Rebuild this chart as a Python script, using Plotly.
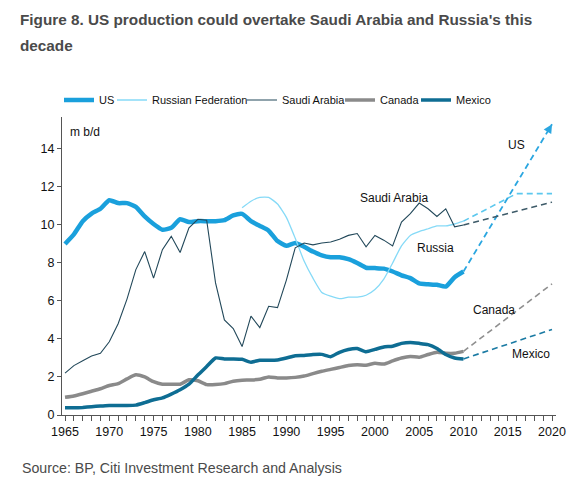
import plotly.graph_objects as go

years = list(range(1965, 2011))

us = [9.0, 9.5, 10.2, 10.6, 10.85, 11.3, 11.15, 11.15, 10.95, 10.45,
      10.05, 9.75, 9.85, 10.3, 10.15, 10.2, 10.2, 10.2, 10.25, 10.5,
      10.58, 10.2, 9.95, 9.7, 9.15, 8.9, 9.05, 8.85, 8.6, 8.4,
      8.3, 8.3, 8.2, 8.0, 7.75, 7.73, 7.7, 7.55, 7.35, 7.2,
      6.92, 6.88, 6.85, 6.76, 7.25, 7.55]

russia_years = list(range(1985, 2011))
russia = [10.9, 11.25, 11.45, 11.45, 11.1, 10.4, 9.3, 8.1, 7.2, 6.45,
          6.25, 6.12, 6.2, 6.2, 6.3, 6.6, 7.15, 8.0, 8.9, 9.45,
          9.65, 9.8, 9.95, 9.95, 10.05, 10.2]

saudi = [2.2, 2.6, 2.85, 3.1, 3.25, 3.85, 4.8, 6.1, 7.65, 8.6,
         7.2, 8.7, 9.4, 8.55, 9.85, 10.3, 10.25, 6.95, 5.0, 4.55,
         3.6, 5.2, 4.6, 5.72, 5.65, 7.1, 8.8, 9.05, 8.95, 9.05,
         9.1, 9.25, 9.45, 9.55, 8.85, 9.45, 9.2, 8.9, 10.15, 10.6,
         11.15, 10.85, 10.45, 10.85, 9.9, 10.0]

canada = [0.93, 1.0, 1.12, 1.25, 1.38, 1.55, 1.65, 1.9, 2.12, 2.0,
          1.75, 1.62, 1.62, 1.62, 1.85, 1.8, 1.6, 1.6, 1.65, 1.78,
          1.83, 1.84, 1.88, 2.0, 1.95, 1.95, 1.98, 2.05, 2.18, 2.3,
          2.4, 2.5, 2.6, 2.65, 2.62, 2.72, 2.68, 2.85, 3.0, 3.08,
          3.04, 3.18, 3.3, 3.25, 3.25, 3.35]

mexico = [0.38, 0.38, 0.4, 0.44, 0.47, 0.5, 0.5, 0.5, 0.52, 0.65,
          0.8, 0.9, 1.1, 1.33, 1.62, 2.1, 2.55, 3.0, 2.95, 2.95,
          2.93, 2.78, 2.88, 2.88, 2.9, 3.0, 3.12, 3.13, 3.18, 3.19,
          3.07, 3.3, 3.45, 3.5, 3.33, 3.45, 3.58, 3.62, 3.77, 3.82,
          3.77, 3.7, 3.5, 3.18, 3.0, 2.95]

# forecasts (dashed)
fc_years = [2010, 2020]
us_fc = [7.55, 15.3]
russia_fc_years = [2010, 2016, 2020]
russia_fc = [10.2, 11.65, 11.65]
saudi_fc = [10.0, 11.2]
canada_fc = [3.35, 6.9]
mexico_fc = [2.95, 4.5]

x_ticks = list(range(1965, 2021, 5))
y_ticks = [0, 2, 4, 6, 8, 10, 12, 14]

C_US = "#1aa0dc"
C_RU = "#86daf7"
C_SA = "#22485a"
C_CA = "#8a8a8a"
C_MX = "#0e6d93"

FONT = "Liberation Sans, Arial, sans-serif"

# plot area in figure pixels (page has an 8px body margin)
L, R, T, B = 54, 35, 109, 77
W, H = 583, 484
PW, PH = W - L - R, H - T - B


def px(fx):
    return (fx - L) / PW


def py(fy):
    return (H - B - fy) / PH


fig = go.Figure()

fig.add_trace(go.Scatter(x=years, y=us, name="US", mode="lines", legendwidth=8,
                         line=dict(color=C_US, width=4.5, shape="spline", smoothing=0.5)))
fig.add_trace(go.Scatter(x=russia_years, y=russia, name="Russian Federation", mode="lines",
                         legendwidth=85,
                         line=dict(color=C_RU, width=1.3, shape="spline", smoothing=0.5)))
fig.add_trace(go.Scatter(x=years, y=saudi, name="Saudi Arabia", mode="lines", legendwidth=53,
                         line=dict(color=C_SA, width=1.1)))
fig.add_trace(go.Scatter(x=years, y=canada, name="Canada", mode="lines", legendwidth=31,
                         line=dict(color=C_CA, width=3.5, shape="spline", smoothing=0.5)))
fig.add_trace(go.Scatter(x=years, y=mexico, name="Mexico", mode="lines", legendwidth=40,
                         line=dict(color=C_MX, width=3.5, shape="spline", smoothing=0.5)))

fc = [
    (fc_years, us_fc, "#2aa6e0", 1.8, True),
    (russia_fc_years, russia_fc, "#5cc8ee", 1.6, False),
    (fc_years, saudi_fc, "#3d5a68", 1.4, False),
    (fc_years, canada_fc, "#8f8f8f", 1.6, True),
    (fc_years, mexico_fc, "#1a7aa3", 1.6, True),
]
for xs, ys, col, w, arrow in fc:
    fig.add_trace(go.Scatter(x=xs, y=ys, mode="lines", showlegend=False, hoverinfo="skip",
                             line=dict(color=col, width=w, dash="6px,4px")))
    if arrow:
        x0, x1 = xs[-2], xs[-1]
        y0, y1 = ys[-2], ys[-1]
        t = 0.97
        fig.add_annotation(x=x1, y=y1, ax=x0 + (x1 - x0) * t, ay=y0 + (y1 - y0) * t,
                           xref="x", yref="y", axref="x", ayref="y",
                           showarrow=True, arrowhead=2, arrowsize=1.1, arrowwidth=1.6,
                           arrowcolor=col, text="", standoff=0)

labels = [
    ("US", 2016.0, 14.2),
    ("Saudi Arabia", 2002.2, 11.4),
    ("Russia", 2006.8, 8.8),
    ("Canada", 2013.5, 5.55),
    ("Mexico", 2017.6, 3.2),
]
for txt, lx, ly in labels:
    fig.add_annotation(x=lx, y=ly, text=txt, showarrow=False, xref="x", yref="y",
                       font=dict(family=FONT, size=12, color="#111"))

fig.add_annotation(x=px(60), y=py(124), xref="paper", yref="paper", text="m b/d",
                   showarrow=False, xanchor="left", yanchor="middle",
                   font=dict(family=FONT, size=12, color="#111"))

fig.add_annotation(x=px(12), y=py(460), xref="paper", yref="paper",
                   text="Source: BP, Citi Investment Research and Analysis",
                   showarrow=False, xanchor="left", yanchor="middle",
                   font=dict(family=FONT, size=14.2, color="#4a4a4a"))

title_lines = ["Figure 8. US production could overtake Saudi Arabia and Russia's this", "decade"]
for i, line in enumerate(title_lines):
    fig.add_annotation(x=px(10), y=py(12 + 26 * i), xref="paper", yref="paper",
                       text="<b>" + line + "</b>", showarrow=False,
                       xanchor="left", yanchor="middle",
                       font=dict(family=FONT, size=15.3, color="#4a4a4a"))

fig.update_layout(
    width=W, height=H,
    margin=dict(l=L, r=R, t=T, b=B),
    paper_bgcolor="white", plot_bgcolor="white",
    font=dict(family=FONT, size=12, color="#111"),
    showlegend=True,
    legend=dict(orientation="h", x=px(51), xanchor="left", y=py(92), yanchor="middle",
                font=dict(family=FONT, size=11, color="#111"),
                itemwidth=30, tracegroupgap=0, bgcolor="rgba(0,0,0,0)",
                entrywidthmode="pixels"),
)
fig.update_xaxes(range=[1964.66, 2020.45], tickvals=x_ticks, ticks="outside", ticklen=5,
                 tickcolor="#555", showline=True, linecolor="#555", linewidth=1.3,
                 showgrid=False, zeroline=False, tickfont=dict(size=12.5),
                 minor=dict(dtick=1, tick0=1965, ticks="outside", ticklen=5, tickcolor="#555", showgrid=False))
fig.update_yaxes(range=[0, 15.68], tickvals=y_ticks, ticks="outside", ticklen=4,
                 tickcolor="#555", showline=True, linecolor="#555", linewidth=1.3,
                 showgrid=False, zeroline=False, tickfont=dict(size=12.5))

fig.write_html("out.html")
